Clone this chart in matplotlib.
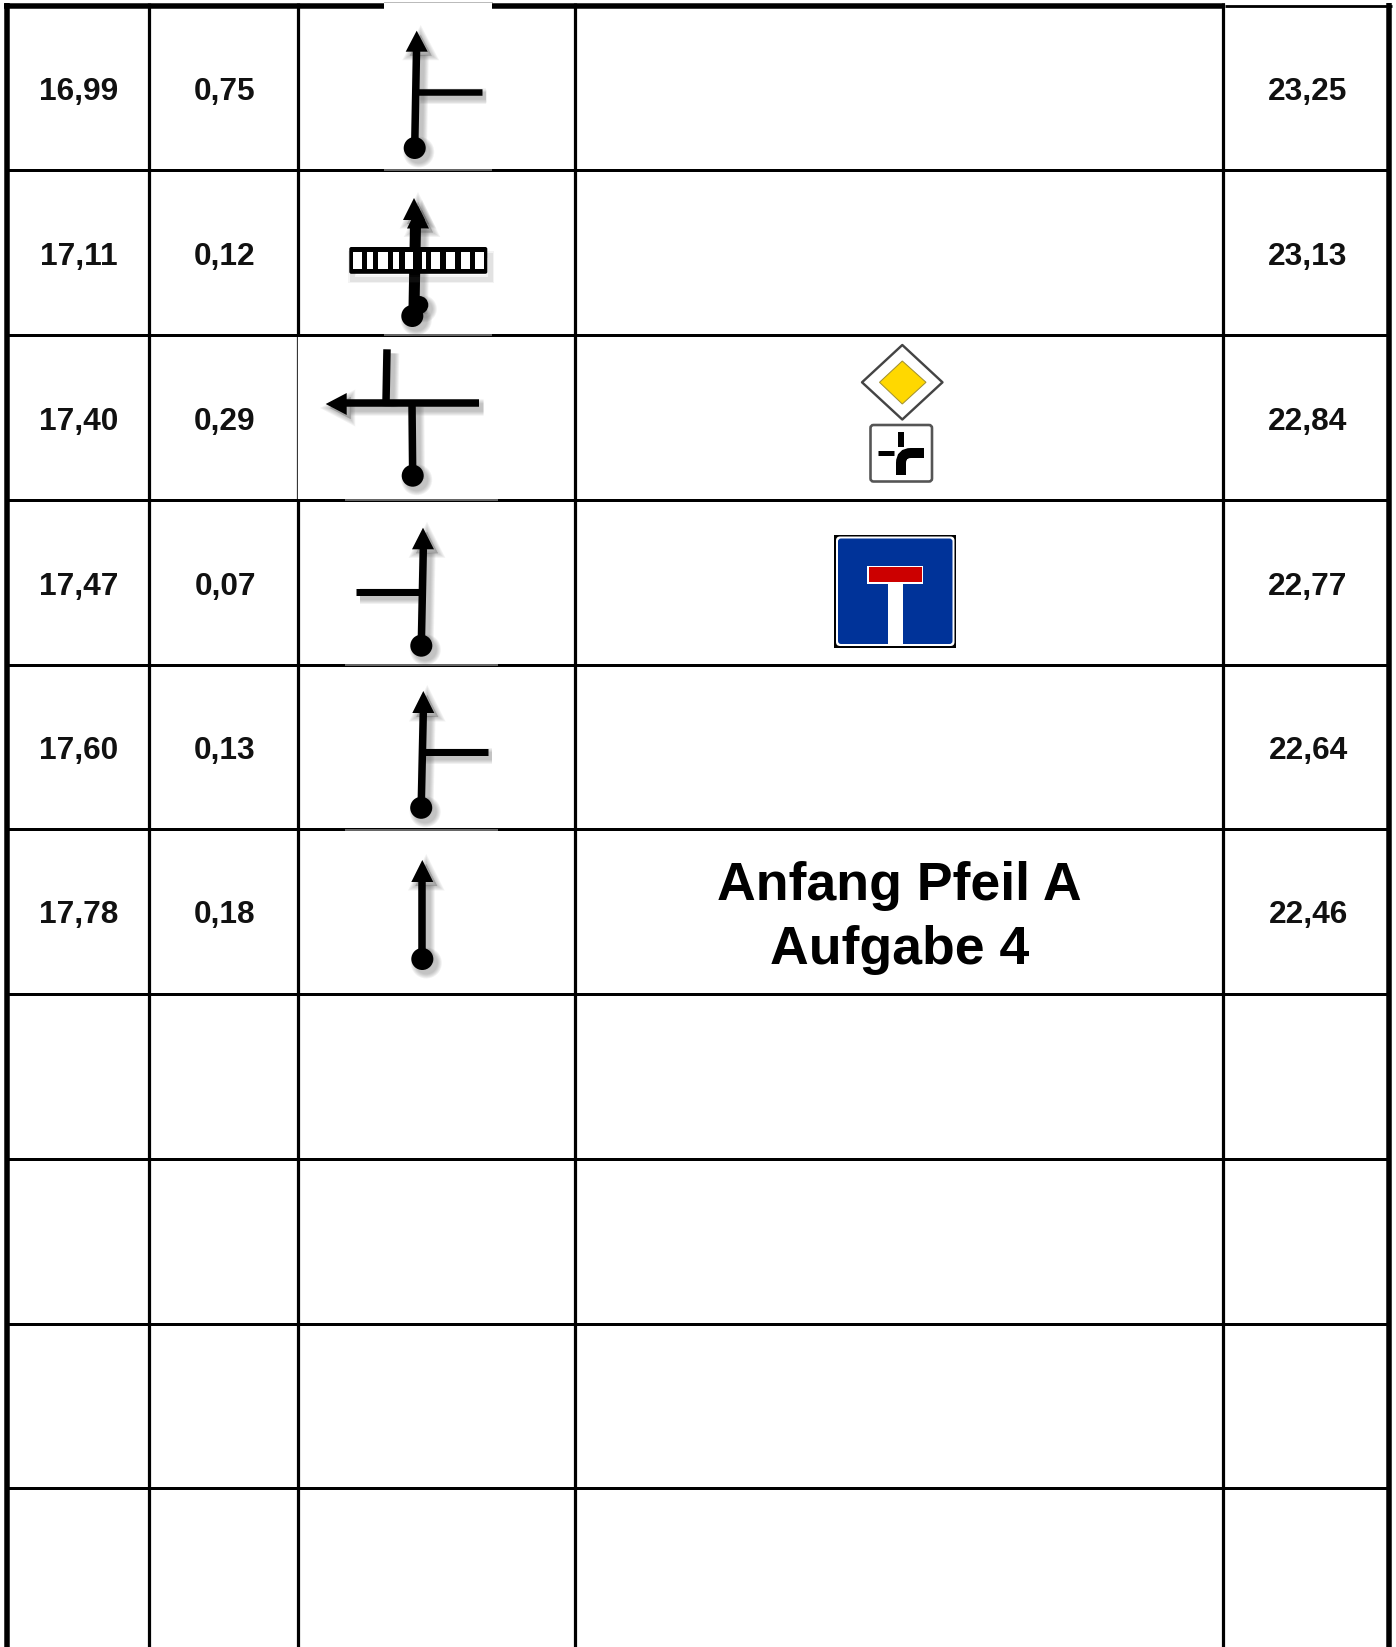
import matplotlib
matplotlib.use("Agg")
import matplotlib.pyplot as plt
from matplotlib.patches import Polygon, Circle, Rectangle, FancyBboxPatch, PathPatch
from matplotlib.path import Path

plt.rcParams['font.family'] = ['Liberation Sans', 'DejaVu Sans']

W, H = 1396, 1647
# table content
km_start = ["16,99", "17,11", "17,40", "17,47", "17,60", "17,78"]
km_delta = ["0,75", "0,12", "0,29", "0,07", "0,13", "0,18"]
km_rest = ["23,25", "23,13", "22,84", "22,77", "22,64", "22,46"]
note_lines = ["Anfang Pfeil A", "Aufgabe 4"]
# table grid (pixels)
col_edges = [6.5, 149.3, 298, 575.3, 1223.3, 1389]
row_edges = [6, 170, 335.3, 500, 665, 829, 994, 1159, 1323.5, 1488]

# route symbols: (kind, args)  L=line, A=arrowhead (tip, base point, half width), C=circle
symbols = [
    [("L", 416.5, 51, 414.7, 148, 7.5), ("L", 416, 92, 482, 92, 6.5),
     ("A", 416.7, 30.7, 416.7, 51.7, 11), ("C", 414.7, 148, 11)],
    [("L", 415.5, 225, 414, 310, 11),
     ("A", 414, 198, 414, 220, 11), ("A", 418, 206, 418, 228.5, 11),
     ("C", 419.3, 305, 9), ("C", 412.3, 316, 11)],
    [("L", 346, 403.3, 479, 403.3, 7.5), ("L", 387, 349.3, 386, 403, 7.5),
     ("L", 412, 403, 412.7, 475, 7.5),
     ("A", 325.7, 404, 346.7, 404, 11), ("C", 412.7, 475.7, 11)],
    [("L", 423.3, 549, 421.3, 645, 7.5), ("L", 355.7, 592, 422, 592, 7),
     ("A", 423, 527.7, 423, 549.3, 11), ("C", 421.3, 645.7, 11)],
    [("L", 423.3, 712, 421.2, 807, 7.5), ("L", 422, 752, 488.4, 752, 7),
     ("A", 423.3, 691, 423.3, 713, 11), ("C", 421.2, 807.8, 11)],
    [("L", 422.3, 881, 422.3, 958, 7.5),
     ("A", 422.3, 860, 422.3, 882, 11), ("C", 422.3, 959, 11)],
]
# thin gray masks left by the pasted symbol pictures: y, x0, x1
mask_segments = [(170, 384, 492), (335.3, 384, 492), (500, 345, 498),
                 (664.5, 345, 498), (829.5, 345, 498)]
# white cells of the level crossing box: x0, x1
crossing_cells = [(353.3, 361.7), (367.3, 373.3), (378.3, 388.3), (393.3, 399.3), (405, 413.3),
                  (421.7, 426), (431, 440), (446, 455), (460.7, 470), (475, 484)]

fig = plt.figure(figsize=(W / 100, H / 100), dpi=100, facecolor="white")
ax = fig.add_axes([0, 0, 1, 1])
ax.set_xlim(0, W)
ax.set_ylim(H, 0)
ax.axis("off")


def lw(px):
    return px * 0.72


# grid
for y in row_edges[1:]:
    ax.plot([col_edges[0], col_edges[-1]], [y, y], color="black", lw=lw(3), solid_capstyle="butt", zorder=2)
for i, x in enumerate(col_edges):
    w = 5.5 if i in (0, 5) else 3.2
    ax.plot([x, x], [3, H], color="black", lw=lw(w), solid_capstyle="butt", zorder=2)
ax.plot([3.5, 1225], [6, 6], color="black", lw=lw(5.5), solid_capstyle="butt", zorder=2)
ax.plot([1225, 1392], [6.2, 6.2], color="black", lw=lw(2.8), solid_capstyle="butt", zorder=2)

# masks of the pasted pictures
ax.add_patch(Rectangle((384, 2.5), 108, 7, fc="white", ec="none", zorder=3))
ax.plot([384, 492], [2.3, 2.3], color="#bbbbbb", lw=lw(1), zorder=3)
for y, x0, x1 in mask_segments:
    ax.plot([x0, x1], [y, y], color="#666666", lw=lw(2), solid_capstyle="butt", zorder=3)
ax.plot([297.5, 297.5], [337, 499], color="#444444", lw=lw(1.6), solid_capstyle="butt", zorder=3)
ax.add_patch(Rectangle((298.3, 337), 3, 162, fc="white", ec="none", zorder=3))


def draw_symbol(prims, dx=0, dy=0, extra=0, color="black", alpha=1.0, z=5):
    for p in prims:
        if p[0] == "L":
            _, x0, y0, x1, y1, w = p
            ax.plot([x0 + dx, x1 + dx], [y0 + dy, y1 + dy], color=color, alpha=alpha,
                    lw=lw(w + extra), solid_capstyle="butt", zorder=z)
        elif p[0] == "A":
            _, tx, ty, bx, by, hw = p
            if tx == bx:
                pts = [(tx, ty), (bx - hw, by), (bx + hw, by)]
            else:
                pts = [(tx, ty), (bx, by - hw), (bx, by + hw)]
            pts = [(a + dx, b + dy) for a, b in pts]
            ax.add_patch(Polygon(pts, closed=True, fc=color, ec=color, lw=lw(extra), alpha=alpha, zorder=z))
        else:
            _, cx, cy, r = p
            ax.add_patch(Circle((cx + dx, cy + dy), r + extra / 2, fc=color, ec="none", alpha=alpha, zorder=z))


for prims in symbols:
    for ex in (9, 7, 5, 3, 1):
        draw_symbol(prims, 4, 4, ex, "#555555", 0.08, 4)
    draw_symbol(prims)

# level crossing box of the second symbol
for ex, a in ((6, .07), (3, .1)):
    ax.add_patch(Rectangle((349 + 3, 250 + 5), 138, 24, fc="none", ec="#555555", lw=lw(2 + ex), alpha=a, zorder=5))
ax.add_patch(FancyBboxPatch((349.3, 247), 138, 26.8, boxstyle="round,pad=0,rounding_size=2",
                            fc="black", ec="none", zorder=6))
for x0, x1 in crossing_cells:
    ax.add_patch(Rectangle((x0, 252), x1 - x0, 16.5, fc="white", ec="none", zorder=7))

# priority road sign
ax.add_patch(Polygon([(902.3, 345), (942.5, 382.3), (902.3, 419.5), (862, 382.3)], closed=True,
                     fc="white", ec="#444444", lw=lw(2.4), joinstyle="round", zorder=5))
ax.add_patch(Polygon([(902.3, 361), (926, 382.3), (902.3, 404), (879.5, 382.3)], closed=True,
                     fc="#FFD800", ec="#a09030", lw=lw(1), zorder=6))
ax.add_patch(FancyBboxPatch((870.5, 425), 61.5, 56.5, boxstyle="round,pad=0,rounding_size=3",
                            fc="white", ec="#555555", lw=lw(2.6), zorder=5))
ax.plot([901, 901], [432, 447], color="black", lw=lw(6), solid_capstyle="butt", zorder=6)
ax.plot([877.5, 894], [453.3, 453.3], color="black", lw=lw(5), solid_capstyle="butt", zorder=6)
curve = Path([(924, 453), (911, 453), (901, 453), (901, 463), (901, 475)],
             [Path.MOVETO, Path.LINETO, Path.CURVE3, Path.CURVE3, Path.LINETO])
ax.add_patch(PathPatch(curve, fc="none", ec="black", lw=lw(10), capstyle="butt", zorder=6))

# dead end sign
ax.add_patch(Rectangle((834, 535), 122, 112.5, fc="black", ec="none", zorder=5))
ax.add_patch(FancyBboxPatch((836, 536.5), 118.5, 109.5, boxstyle="round,pad=0,rounding_size=4",
                            fc="white", ec="none", zorder=6))
ax.add_patch(FancyBboxPatch((838, 538.5), 114.5, 105.5, boxstyle="round,pad=0,rounding_size=3",
                            fc="#003399", ec="none", zorder=7))
ax.add_patch(Rectangle((867, 565.5), 56, 18, fc="white", ec="none", zorder=8))
ax.add_patch(Rectangle((868.5, 567), 53, 14.7, fc="#CC0000", ec="none", zorder=9))
ax.add_patch(Rectangle((887.7, 583), 15.6, 61, fc="white", ec="none", zorder=8))

# text
x_centers = [79, 225, 1308]
for i, (a, b, c) in enumerate(zip(km_start, km_delta, km_rest)):
    y = (row_edges[i] + row_edges[i + 1]) / 2 + 12
    for xc, s in zip(x_centers, (a, b, c)):
        ax.text(xc, y, s, ha="center", va="baseline", fontsize=22.8, fontweight="bold", color="#111111", zorder=10)
ax.text(899.5, 900, note_lines[0], ha="center", va="baseline", fontsize=38.6, fontweight="bold", color="black", zorder=10)
ax.text(899.5, 964, note_lines[1], ha="center", va="baseline", fontsize=38.6, fontweight="bold", color="black", zorder=10)

fig.savefig("out.png", dpi=100)
